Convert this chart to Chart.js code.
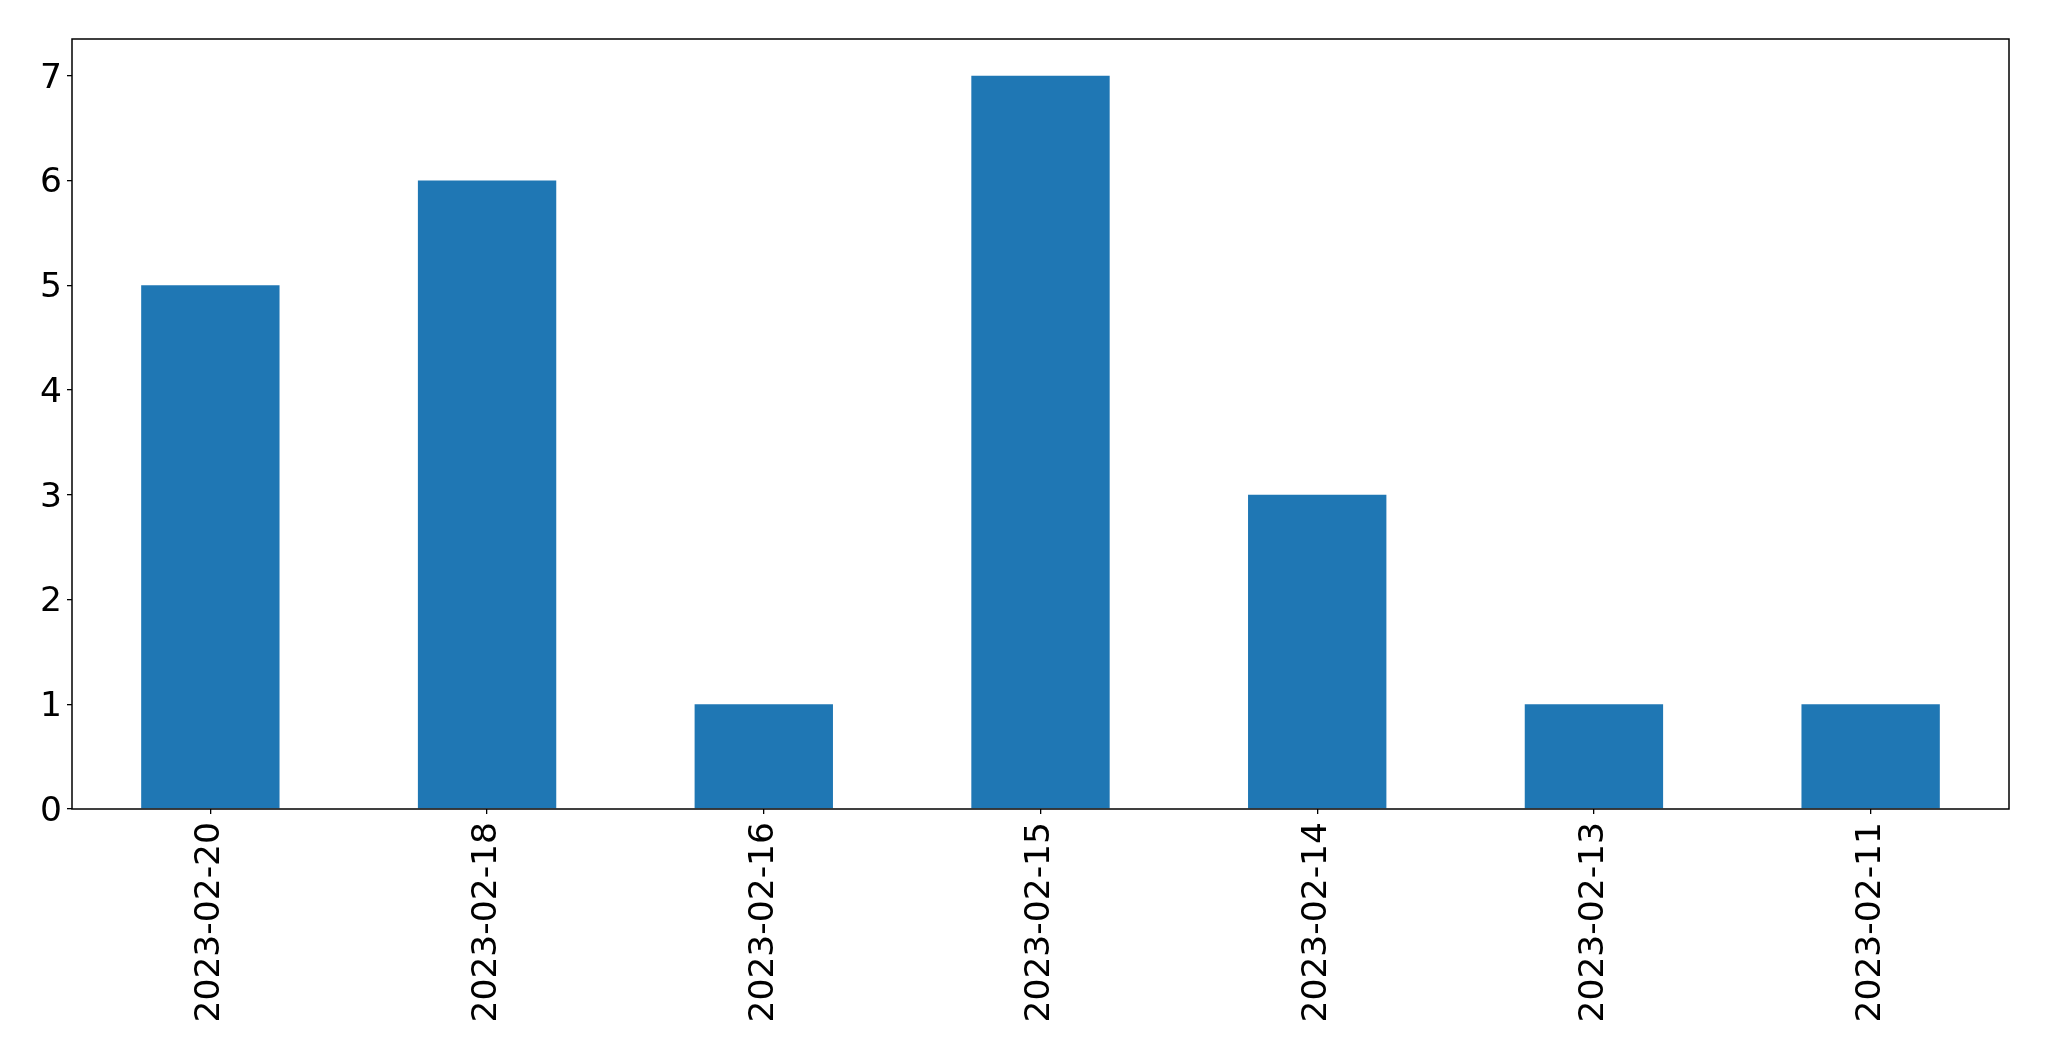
<!DOCTYPE html>
<html lang="en">
<head>
    <meta charset="UTF-8">
    <title>Bar chart</title>
    <script src="https://cdn.jsdelivr.net/npm/chart.js"></script>
    <style>
        html, body { margin: 0; padding: 0; background: #fff; }
        #wrap { width: 2049px; height: 1061px; }
    </style>
</head>
<body>
    <div id="wrap"><canvas id="myChart" width="2049" height="1061"></canvas></div>

    <script>
        const dates = ['2023-02-20', '2023-02-18', '2023-02-16', '2023-02-15', '2023-02-14', '2023-02-13', '2023-02-11'];
        const counts = [5, 6, 1, 7, 3, 1, 1];
        const yTicks = [0, 1, 2, 3, 4, 5, 6, 7];

        // draws the black box round the plot area, like matplotlib's spines
        const frame = {
            id: 'frame',
            afterDraw(chart) {
                const a = chart.chartArea;
                const ctx = chart.ctx;
                ctx.save();
                ctx.strokeStyle = '#000';
                ctx.lineWidth = 1.5;
                ctx.strokeRect(a.left, a.top, a.right - a.left, a.bottom - a.top);
                ctx.restore();
            }
        };

        const font = { family: 'DejaVu Sans', size: 34.5 };

        new Chart(document.getElementById('myChart'), {
            type: 'bar',
            data: {
                labels: dates,
                datasets: [{
                    data: counts,
                    backgroundColor: '#1f77b4',
                    barPercentage: 0.5,
                    categoryPercentage: 1
                }]
            },
            options: {
                responsive: false,
                animation: false,
                layout: { padding: { top: 39, right: 40, left: 0, bottom: 0 } },
                plugins: { legend: { display: false }, tooltip: { enabled: false } },
                scales: {
                    x: {
                        offset: true,
                        grid: { offset: false, drawOnChartArea: false, drawTicks: true, tickLength: 5, color: '#000', lineWidth: 1.3 },
                        border: { display: false },
                        ticks: { color: '#000', font: font, minRotation: 90, maxRotation: 90, padding: 8, autoSkip: false },
                        afterFit(scale) { scale.height = 1061 - 809; }
                    },
                    y: {
                        min: 0,
                        max: 7.35,
                        grid: { drawOnChartArea: false, drawTicks: true, tickLength: 5, color: '#000', lineWidth: 1.3 },
                        border: { display: false },
                        ticks: { color: '#000', font: font, padding: 5, labelOffset: 3 },
                        afterBuildTicks(scale) { scale.ticks = yTicks.map(v => ({ value: v })); },
                        afterFit(scale) { scale.width = 72; }
                    }
                }
            },
            plugins: [frame]
        });
    </script>
</body>
</html>
